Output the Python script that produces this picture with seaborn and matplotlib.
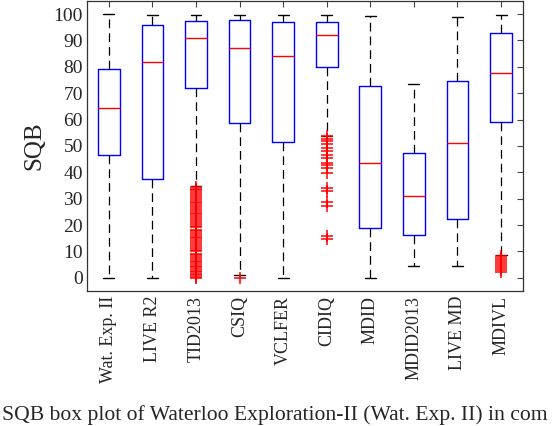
import seaborn as sns
import pandas as pd
import matplotlib.pyplot as plt

# SQB-Verteilung je Datensatz
datasets = ['Wat. Exp. II', 'LIVE R2', 'TID2013', 'CSIQ', 'VCLFER',
            'CIDIQ', 'MDID', 'MDID2013', 'LIVE MD', 'MDIVL']
whis_lo = [0, 0, 34.8, 1.0, 0, 53.9, 0, 4.3, 4.3, 8.7]
q1 = [46.4, 37.5, 72.1, 58.8, 51.4, 79.8, 18.8, 16.4, 22.4, 58.9]
median = [64.3, 82.0, 90.8, 87.1, 84.1, 92.0, 43.4, 31.0, 51.0, 77.5]
q3 = [79.0, 96.0, 97.2, 97.9, 97.0, 97.0, 72.6, 47.3, 74.6, 92.8]
whis_hi = [100, 99.5, 99.6, 99.6, 99.6, 99.6, 99.2, 73.5, 98.9, 99.6]

# Ausreisser
fliers_tid = [0, 0.4, 0.9, 1.5, 2.1, 2.6, 3.3, 3.9, 4.6, 5.2, 5.9, 6.5, 7.3, 7.9,
              8.6, 9.2, 10.0, 10.7, 11.3, 12.1, 12.8, 13.4, 14.2, 14.9, 15.6,
              16.2, 17.0, 17.7, 18.3, 19.1, 19.8, 20.4, 21.2, 21.9, 22.6, 23.3,
              24.0, 24.7, 25.4, 26.1, 26.8, 27.5, 28.2, 28.9, 29.6, 30.3, 31.0,
              31.7, 32.4, 33.1, 33.8, 34.3]
fliers_csiq = [0]
fliers_cidiq = [53.7, 52.7, 51.8, 50.6, 49.3, 48.0, 46.7, 45.5, 43.6, 42.6,
                41.7, 39.8, 33.9, 32.9, 28.7, 27.4, 16.0, 14.8]
fliers_mdivl = [8.2, 7.5, 6.8, 6.0, 5.3, 4.5, 3.8, 3.0, 2.3]

caption = 'SQB box plot of Waterloo Exploration-II (Wat. Exp. II) in com'

sns.set_style('white')
plt.rcParams['font.family'] = ['Liberation Serif', 'DejaVu Serif']

fig = plt.figure(figsize=(5.58, 4.26), dpi=100)
ax = fig.add_axes([0.156, 0.317, 0.781, 0.681])

stats = []
for i in range(len(datasets)):
    stats.append({'whislo': whis_lo[i], 'q1': q1[i], 'med': median[i],
                  'q3': q3[i], 'whishi': whis_hi[i], 'fliers': []})

ax.bxp(stats, positions=range(1, len(datasets) + 1), widths=0.5,
       capwidths=0.25, showfliers=False,
       boxprops=dict(color='#0000ff', linewidth=1.0),
       medianprops=dict(color='#ff0000', linewidth=1.0),
       whiskerprops=dict(color='black', linewidth=0.9, linestyle=(0, (7, 4))),
       capprops=dict(color='black', linewidth=1.0))

fl = pd.DataFrame({
    'pos': [3] * len(fliers_tid) + [4] * len(fliers_csiq)
           + [6] * len(fliers_cidiq) + [10] * len(fliers_mdivl),
    'val': fliers_tid + fliers_csiq + fliers_cidiq + fliers_mdivl,
})
sns.scatterplot(data=fl, x='pos', y='val', marker='+', color='#ff0000',
                s=85, linewidth=1.1, ax=ax, zorder=3)

ax.set_xlim(0.5, 10.5)
ax.set_ylim(-5, 105)
ax.set_yticks(range(0, 101, 10))
ax.set_xticks(range(1, len(datasets) + 1))
ax.set_xticklabels(datasets, rotation=90, fontsize=13)
ax.tick_params(axis='y', labelsize=14, pad=3)
ax.tick_params(direction='in', length=4, top=True, right=True,
               color='#444444', width=0.8)
ax.set_xlabel('')
ax.set_ylabel('SQB', fontsize=18, labelpad=6)
for s in ax.spines.values():
    s.set_color('#333333')
    s.set_linewidth(0.9)

fig.text(0.003, 0.002, caption, fontsize=15.6, ha='left', va='bottom')

fig.savefig('out.png', dpi=100)
